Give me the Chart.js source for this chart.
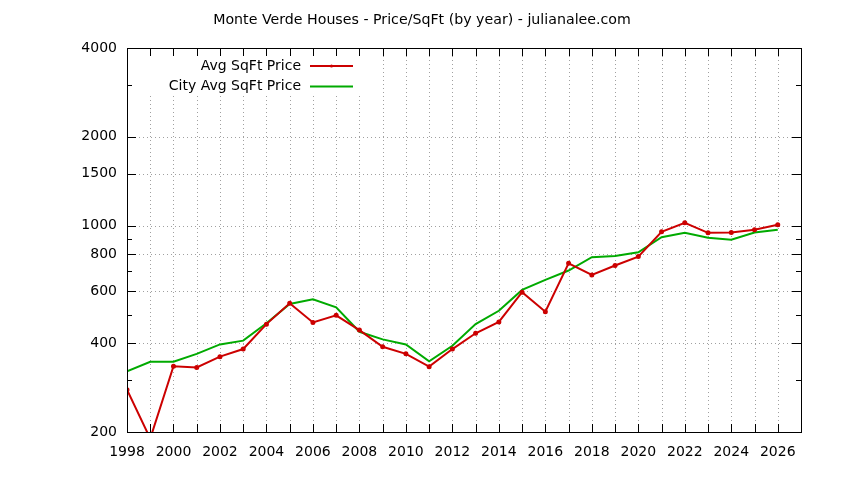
<!DOCTYPE html>
<html>
<head>
<meta charset="utf-8">
<title>Monte Verde Houses - Price/SqFt</title>
<script src="https://cdn.jsdelivr.net/npm/chart.js@4/dist/chart.umd.min.js"></script>
<style>
  html, body { margin: 0; padding: 0; background: #fff; }
  #chart { display: block; }
</style>
</head>
<body>
<canvas id="chart" width="844" height="480"></canvas>
<script>
// --- DATA ---
const years = [1998, 1999, 2000, 2001, 2002, 2003, 2004, 2005, 2006, 2007,
               2008, 2009, 2010, 2011, 2012, 2013, 2014, 2015, 2016, 2017,
               2018, 2019, 2020, 2021, 2022, 2023, 2024, 2025, 2026];
const avgSqftPrice = [278, 190, 334, 331, 360, 382, 464, 546, 470, 497,
                      443, 389, 368, 333, 382, 432, 472, 595, 511, 746,
                      681, 733, 786, 954, 1023, 946, 948, 969, 1007];
const cityAvgSqftPrice = [321, 346, 346, 368, 396, 408, 467, 543, 563, 529,
                          437, 412, 396, 347, 392, 464, 515, 606, 655, 705,
                          782, 790, 813, 914, 946, 910, 896, 948, 969];
const xTickLabels = [1998, 2000, 2002, 2004, 2006, 2008, 2010, 2012, 2014,
                     2016, 2018, 2020, 2022, 2024, 2026];
const yTickLabels = [200, 400, 600, 800, 1000, 1500, 2000, 4000];
const yMinorTicks = [300, 500, 700, 900, 3000];
const seriesNames = ['Avg SqFt Price', 'City Avg SqFt Price'];
const chartTitle = 'Monte Verde Houses - Price/SqFt (by year) - julianalee.com';

const FONT = '"DejaVu Sans", Verdana, sans-serif';

// gnuplot-ish frame: dotted grid, box border, inward ticks, boxed key
const frame = {
  id: 'frame',
  beforeDatasetsDraw(chart) {
    const { ctx, chartArea: a, scales: { x, y } } = chart;
    ctx.save();
    ctx.strokeStyle = '#a0a0a0';
    ctx.lineWidth = 1;
    ctx.setLineDash([1, 3]);
    years.forEach(yr => {
      if (yr === years[0]) return;
      const px = Math.round(x.getPixelForValue(yr)) + 0.5;
      ctx.beginPath(); ctx.moveTo(px, a.top); ctx.lineTo(px, a.bottom); ctx.stroke();
    });
    yTickLabels.forEach(v => {
      if (v === yTickLabels[0] || v === yTickLabels[yTickLabels.length - 1]) return;
      const py = Math.round(y.getPixelForValue(v)) + 0.5;
      ctx.beginPath(); ctx.moveTo(a.left, py); ctx.lineTo(a.right, py); ctx.stroke();
    });
    ctx.setLineDash([]);
    // key background
    ctx.fillStyle = '#fff';
    ctx.fillRect(a.left + 1, a.top + 1, 238, 47);
    ctx.restore();
  },
  afterDatasetsDraw(chart) {
    const { ctx, chartArea: a, scales: { x, y } } = chart;
    ctx.save();
    // key
    ctx.font = '14px ' + FONT;
    ctx.textAlign = 'right';
    ctx.textBaseline = 'middle';
    chart.data.datasets.forEach((ds, i) => {
      const ly = a.top + 18 + i * 20.5;
      ctx.fillStyle = '#000';
      ctx.fillText(ds.label, a.left + 174, ly);
      ctx.strokeStyle = ds.borderColor;
      ctx.lineWidth = 2;
      ctx.beginPath(); ctx.moveTo(a.left + 183, ly); ctx.lineTo(a.left + 226, ly); ctx.stroke();
      if (ds.pointRadius > 0) {
        ctx.fillStyle = ds.borderColor;
        ctx.beginPath(); ctx.arc(a.left + 204.5, ly, ds.pointRadius, 0, Math.PI * 2); ctx.fill();
      }
    });
    // border box
    ctx.strokeStyle = '#000';
    ctx.lineWidth = 1;
    ctx.strokeRect(Math.round(a.left) + 0.5, Math.round(a.top) + 0.5,
                   Math.round(a.right - a.left), Math.round(a.bottom - a.top));
    // ticks, inward on all four sides
    ctx.beginPath();
    years.forEach(yr => {
      const px = Math.round(x.getPixelForValue(yr)) + 0.5;
      ctx.moveTo(px, a.bottom); ctx.lineTo(px, a.bottom - 8);
      ctx.moveTo(px, a.top); ctx.lineTo(px, a.top + 8);
    });
    yTickLabels.forEach(v => {
      const py = Math.round(y.getPixelForValue(v)) + 0.5;
      ctx.moveTo(a.left, py); ctx.lineTo(a.left + 9, py);
      ctx.moveTo(a.right, py); ctx.lineTo(a.right - 9, py);
    });
    yMinorTicks.forEach(v => {
      const py = Math.round(y.getPixelForValue(v)) + 0.5;
      ctx.moveTo(a.left, py); ctx.lineTo(a.left + 5, py);
      ctx.moveTo(a.right, py); ctx.lineTo(a.right - 5, py);
    });
    ctx.stroke();
    // title
    ctx.fillStyle = '#000';
    ctx.font = '14.2px ' + FONT;
    ctx.textAlign = 'center';
    ctx.textBaseline = 'alphabetic';
    ctx.fillText(chartTitle, chart.width / 2, 24);
    ctx.restore();
  }
};

new Chart(document.getElementById('chart'), {
  type: 'line',
  data: {
    datasets: [{
      label: seriesNames[0],
      data: years.map((yr, i) => ({ x: yr, y: avgSqftPrice[i] })),
      borderColor: 'rgb(204, 0, 0)',
      backgroundColor: 'rgb(204, 0, 0)',
      borderWidth: 2,
      pointRadius: 1.5,
      pointHoverRadius: 1.5,
      tension: 0
    }, {
      label: seriesNames[1],
      data: years.map((yr, i) => ({ x: yr, y: cityAvgSqftPrice[i] })),
      borderColor: 'rgb(0, 170, 0)',
      backgroundColor: 'rgb(0, 170, 0)',
      borderWidth: 2,
      pointRadius: 0,
      tension: 0
    }]
  },
  options: {
    responsive: false,
    devicePixelRatio: 1,
    animation: false,
    events: [],
    layout: { padding: { top: 48, right: 43, left: 0, bottom: 0 } },
    plugins: { legend: { display: false }, title: { display: false }, tooltip: { enabled: false } },
    scales: {
      x: {
        type: 'linear',
        min: 1998,
        max: 2027,
        afterFit: s => { s.height = 48; },
        afterBuildTicks: s => { s.ticks = xTickLabels.map(v => ({ value: v })); },
        grid: { display: false },
        border: { display: false },
        ticks: {
          autoSkip: false,
          maxRotation: 0,
          padding: 4,
          color: '#000',
          font: { family: FONT, size: 14 },
          callback: v => String(v)
        }
      },
      y: {
        type: 'logarithmic',
        min: 200,
        max: 4000,
        afterFit: s => { s.width = 127; },
        afterBuildTicks: s => { s.ticks = yTickLabels.map(v => ({ value: v })); },
        grid: { display: false },
        border: { display: false },
        ticks: {
          autoSkip: false,
          padding: 2,
          color: '#000',
          font: { family: FONT, size: 14 },
          callback: v => String(v)
        }
      }
    }
  },
  plugins: [frame]
});
</script>
</body>
</html>
